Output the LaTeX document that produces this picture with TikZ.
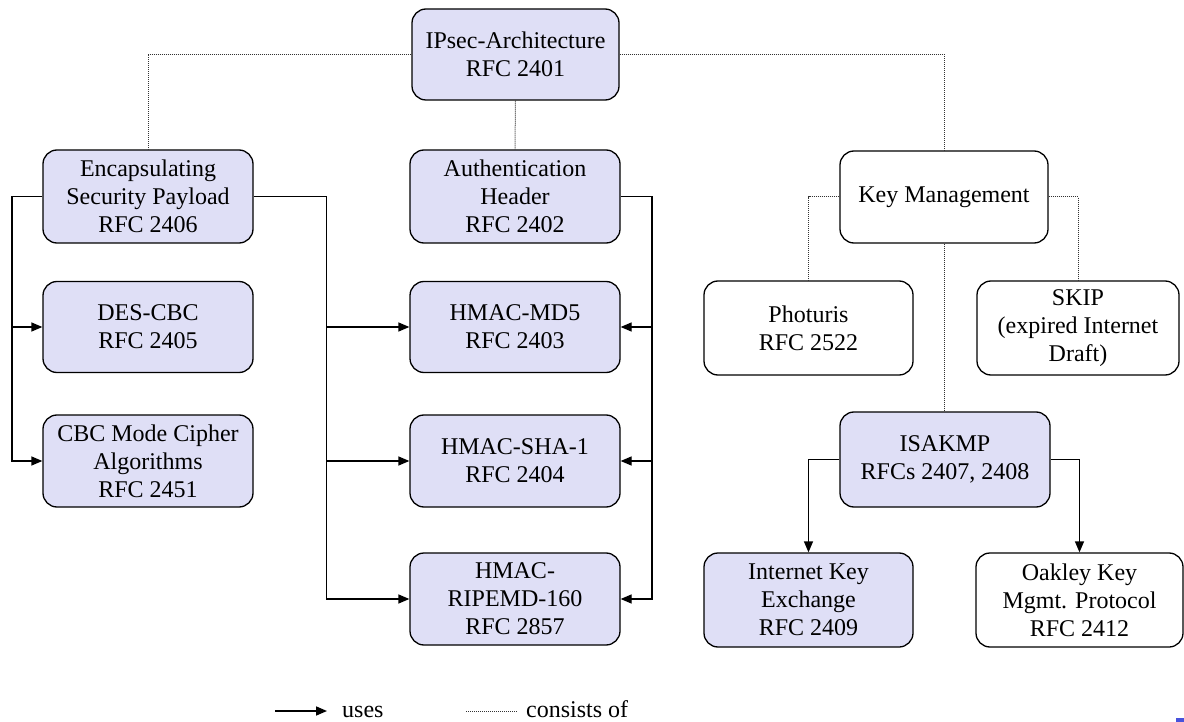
\documentclass[tikz,border=0pt]{standalone}
\usepackage{fontspec}
\setmainfont{Liberation Serif}
\usetikzlibrary{arrows.meta}
\definecolor{lav}{RGB}{223,223,246}
\definecolor{markblue}{RGB}{72,82,220}
\begin{document}
\begin{tikzpicture}[x=1pt,y=-1pt,
  box/.style={draw, line width=1.3pt, rounded corners=14pt, align=center, inner sep=0pt,
    font=\fontsize{24}{28}\selectfont},
  fbox/.style={box, fill=lav},
  wbox/.style={box, fill=white},
  uses/.style={line width=1.3pt, -{Triangle[length=11pt,width=9pt]}},
  cons/.style={line width=1pt, black!80, dash pattern=on 1pt off 1pt},
  lbl/.style={font=\fontsize{24}{28}\selectfont, anchor=base west, inner sep=0pt}]
\useasboundingbox (0,0) rectangle (1184,722);

% nodes
\node[fbox, minimum width=207pt, minimum height=91pt] (ipsec) at (515.5,54.5) {IPsec-Architecture\\RFC 2401};
\node[fbox, minimum width=210pt, minimum height=93pt] (esp) at (148,196.5) {Encapsulating\\Security Payload\\RFC 2406};
\node[fbox, minimum width=210pt, minimum height=93pt] (ah) at (515,196.5) {Authentication\\Header\\RFC 2402};
\node[wbox, minimum width=208pt, minimum height=92pt] (km) at (944,197) {Key Management};
\node[fbox, minimum width=210pt, minimum height=91pt] (des) at (148,327) {DES-CBC\\RFC 2405};
\node[fbox, minimum width=210pt, minimum height=91pt] (md5) at (515,327) {HMAC-MD5\\RFC 2403};
\node[fbox, minimum width=210pt, minimum height=92pt] (cbc) at (148,461) {CBC Mode Cipher\\Algorithms\\RFC 2451};
\node[fbox, minimum width=210pt, minimum height=92pt] (sha) at (515,461) {HMAC-SHA-1\\RFC 2404};
\node[fbox, minimum width=210pt, minimum height=92pt] (rip) at (515,599) {HMAC-\\RIPEMD-160\\RFC 2857};
\node[wbox, minimum width=209pt, minimum height=94pt] (phot) at (808.5,328) {Photuris\\RFC 2522};
\node[wbox, minimum width=202pt, minimum height=94pt] (skip) at (1078,328) {SKIP\\(expired Internet\\Draft)};
\node[fbox, minimum width=210pt, minimum height=95pt] (isakmp) at (945,459.5) {ISAKMP\\RFCs 2407, 2408};
\node[fbox, minimum width=209pt, minimum height=94pt] (ike) at (808.5,600) {Internet Key\\Exchange\\RFC 2409};
\node[wbox, minimum width=207pt, minimum height=94pt] (oak) at (1079.5,600) {Oakley Key\\Mgmt. Protocol\\RFC 2412};

% consists-of connectors
\draw[cons] (ipsec.west) -| (esp.north);
\draw[cons] (ipsec.south) -- (ah.north);
\draw[cons] (ipsec.east) -| (km.north);
\draw[cons] (km.west) -| (phot.north);
\draw[cons] (km.east) -| (skip.north);
\draw[cons] (km.south) -- (km.south |- isakmp.north);

% uses connectors
\coordinate (eL) at (12,196.5);
\coordinate (eR) at (326.5,196.5);
\coordinate (aR) at (652,196.5);
\draw[uses] (esp.west) -- (eL) |- (cbc.west);
\draw[uses] (eL |- des) -- (des.west);
\draw[uses] (esp.east) -- (eR) |- (rip.west);
\draw[uses] (eR |- md5) -- (md5.west);
\draw[uses] (eR |- sha) -- (sha.west);
\draw[uses] (ah.east) -- (aR) |- (rip.east);
\draw[uses] (aR |- md5) -- (md5.east);
\draw[uses] (aR |- sha) -- (sha.east);
\draw[uses] (isakmp.west) -| (ike.north);
\draw[uses] (isakmp.east) -| (oak.north);

% legend
\coordinate (u1) at (275,711);
\coordinate (u2) at (327,711);
\draw[uses, line width=1.6pt] (u1) -- (u2);
\node[lbl] (lu) at (342,717) {uses};
\coordinate (c1) at (466,711);
\coordinate (c2) at (518,711);
\draw[cons] (c1) -- (c2);
\node[lbl] (lc) at (526,717) {consists of};

% small mark in corner
\fill[markblue] (1176,718) rectangle (1184,722);
\end{tikzpicture}
\end{document}
